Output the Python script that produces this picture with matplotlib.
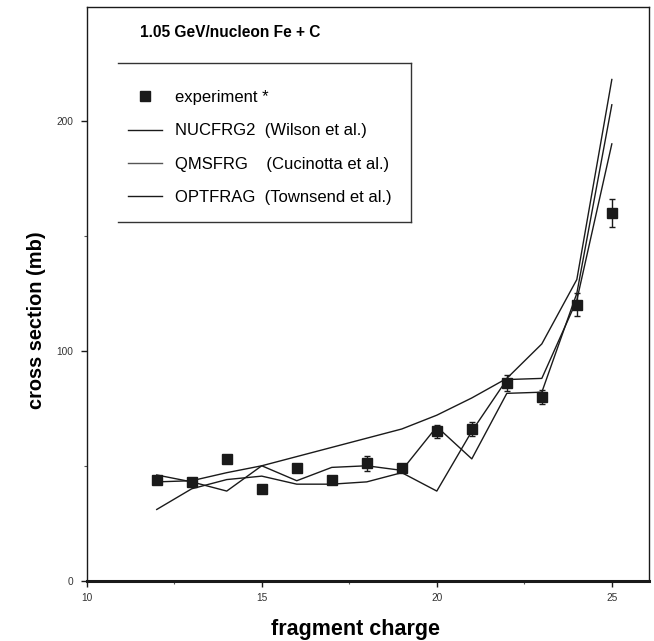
import matplotlib
matplotlib.use("Agg")
import matplotlib.pyplot as plt
from matplotlib.lines import Line2D
from matplotlib.ticker import MultipleLocator

plt.rcParams['font.family'] = ['Liberation Sans', 'DejaVu Sans']

charge = [12, 13, 14, 15, 16, 17, 18, 19, 20, 21, 22, 23, 24, 25]
experiment = [44, 43, 53, 40, 49, 44, 51, 49, 65, 66, 86, 80, 120, 160]
exp_err = [1.5, 1.5, 1.5, 1.5, 1.5, 1.5, 3.2, 1.5, 2.8, 3.2, 3.5, 3.0, 5.0, 6.0]
nucfrg2 = [43, 43.5, 47, 50, 54, 58, 62, 66, 72, 79.5, 88, 103, 131, 218]
qmsfrg = [46, 43, 39, 50, 43.5, 49.3, 50, 48, 67, 53, 81.5, 82, 125, 207]
optfrag = [31, 40, 44, 45.5, 42, 42, 43, 47, 39, 65, 87.5, 88, 122, 190]

labels = ["experiment *", "NUCFRG2  (Wilson et al.)",
          "QMSFRG    (Cucinotta et al.)", "OPTFRAG  (Townsend et al.)"]

fig = plt.figure(figsize=(6.54, 6.41), dpi=100)
ax = fig.add_axes([0.1326, 0.094, 0.8602, 0.895])

l1, = ax.plot(charge, nucfrg2, color='#1a1a1a', lw=1.0)
l2, = ax.plot(charge, qmsfrg, color='#1a1a1a', lw=1.0)
l3, = ax.plot(charge, optfrag, color='#1a1a1a', lw=1.0)
eb = ax.errorbar(charge, experiment, yerr=exp_err, fmt='s', color='#1a1a1a',
                 ms=7.8, ecolor='#1a1a1a', elinewidth=1.0, capsize=2.5,
                 capthick=1.0, zorder=5)

ax.set_xlim(10, 26.07)
ax.set_ylim(0, 249.5)
ax.xaxis.set_major_locator(MultipleLocator(5))
ax.xaxis.set_minor_locator(MultipleLocator(2.5))
ax.yaxis.set_major_locator(MultipleLocator(100))
ax.yaxis.set_minor_locator(MultipleLocator(50))
ax.tick_params(axis='both', which='major', direction='out', length=4,
               width=1.0, labelsize=7.3, labelcolor='#333333', color='#1a1a1a')
ax.tick_params(axis='both', which='minor', direction='out', length=2.5,
               width=0.8, color='#555555')
ax.tick_params(axis='x', pad=5)
ax.tick_params(axis='y', pad=6)

for s in ['left', 'top', 'right']:
    ax.spines[s].set_linewidth(1.0)
    ax.spines[s].set_color('#1a1a1a')
ax.spines['bottom'].set_linewidth(2.2)
ax.spines['bottom'].set_color('#1a1a1a')

ax.set_xlabel("fragment charge", fontsize=15.5, fontweight='bold')
ax.set_ylabel("cross section (mb)", fontsize=14.4, fontweight='bold')
ax.xaxis.set_label_coords(0.478, -0.066)
ax.yaxis.set_label_coords(-0.073, 0.455)

ax.text(0.095, 0.955, "1.05 GeV/nucleon Fe + C", transform=ax.transAxes,
        fontsize=11.2, fontweight='bold', va='center', ha='left')

# legend box (open on the left)
bx0, bx1 = (118 - 86.7) / 562.6, (411 - 86.7) / 562.6
by0, by1 = (580.7 - 222) / 573.7, (580.7 - 63) / 573.7
for xs, ys in [([bx0, bx1], [by1, by1]), ([bx1, bx1], [by1, by0]),
               ([bx0, bx1], [by0, by0])]:
    ax.add_line(Line2D(xs, ys, transform=ax.transAxes, color='#333333',
                       lw=1.0, clip_on=False))

leg = ax.legend([eb[0], l1, l2, l3], labels, loc='upper left',
                bbox_to_anchor=((128 - 86.7) / 562.6, (580.7 - 90) / 573.7),
                frameon=False, fontsize=12, handlelength=2.05,
                handletextpad=0.75, labelspacing=1.1, borderaxespad=0,
                borderpad=0)
leg.legend_handles[2].set_color('#555555')

fig.savefig("out.png", dpi=100)
